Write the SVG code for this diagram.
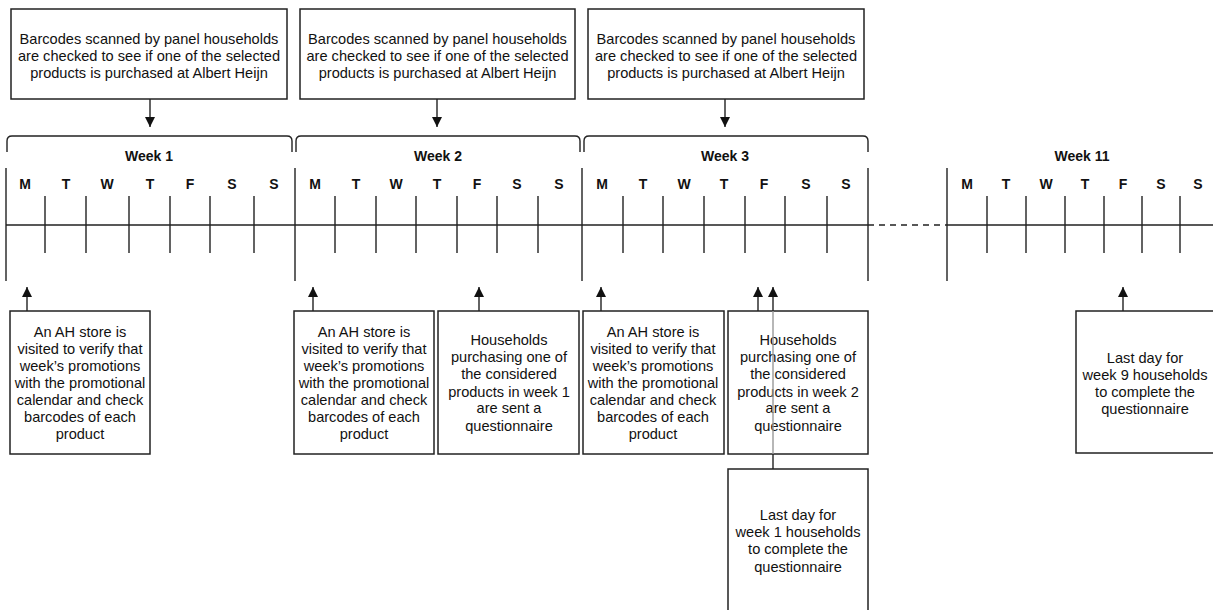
<svg xmlns="http://www.w3.org/2000/svg" width="1213" height="610" viewBox="0 0 1213 610">
<style>
.box{fill:#fff;stroke:#222;stroke-width:1.5}
.ln{stroke:#222;stroke-width:1.4;fill:none}
.t{font-family:"Liberation Sans",Arial,sans-serif;font-size:14.6px;fill:#111;text-anchor:middle}
.b{font-family:"Liberation Sans",Arial,sans-serif;font-size:14px;font-weight:bold;fill:#111;text-anchor:middle}
</style>
<defs>
<marker id="ah" markerUnits="userSpaceOnUse" markerWidth="12" markerHeight="12" refX="10" refY="5" orient="auto">
<path d="M0,0 L10,5 L0,10 Z" fill="#111"/>
</marker>
</defs>
<rect width="1213" height="610" fill="#fff"/>

<g id="timeline">
<path class="ln" d="M7,152 V141 Q7,136 12,136 H287 Q292,136 292,141 V152"/>
<path class="ln" d="M296,152 V141 Q296,136 301,136 H575 Q580,136 580,141 V152"/>
<path class="ln" d="M584,152 V141 Q584,136 589,136 H863 Q868,136 868,141 V152"/>
<text class="b" x="149" y="161">Week 1</text>
<text class="b" x="438" y="161">Week 2</text>
<text class="b" x="725" y="161">Week 3</text>
<text class="b" x="1082" y="161">Week 11</text>
<g class="b">
<text x="25" y="189">M</text><text x="66" y="189">T</text><text x="107" y="189">W</text><text x="150" y="189">T</text><text x="190" y="189">F</text><text x="232" y="189">S</text><text x="274" y="189">S</text>
<text x="315" y="189">M</text><text x="356" y="189">T</text><text x="396" y="189">W</text><text x="437" y="189">T</text><text x="477" y="189">F</text><text x="517" y="189">S</text><text x="559" y="189">S</text>
<text x="602" y="189">M</text><text x="643" y="189">T</text><text x="684" y="189">W</text><text x="724" y="189">T</text><text x="764" y="189">F</text><text x="806" y="189">S</text><text x="846" y="189">S</text>
<text x="967" y="189">M</text><text x="1006" y="189">T</text><text x="1046" y="189">W</text><text x="1085" y="189">T</text><text x="1123" y="189">F</text><text x="1161" y="189">S</text><text x="1198" y="189">S</text>
</g>
<path class="ln" d="M6,225 H868 M947,225 H1213"/>
<path class="ln" d="M868,225 H947" stroke-dasharray="6,5"/>
<path class="ln" d="M6,168 V281 M295,168 V281 M582,168 V281 M868,168 V281 M947,168 V281"/>
<path class="ln" d="M45,196 V253 M86,196 V253 M129,196 V253 M170,196 V253 M210,196 V253 M254,196 V253
M335,196 V253 M376,196 V253 M416,196 V253 M457,196 V253 M497,196 V253 M538,196 V253
M623,196 V253 M663,196 V253 M704,196 V253 M745,196 V253 M785,196 V253 M827,196 V253
M987,196 V253 M1026,196 V253 M1065,196 V253 M1104,196 V253 M1142,196 V253 M1180,196 V253"/>
</g>

<g id="top1">
<rect class="box" x="11" y="9" width="276" height="90"/>
<text class="t" x="149" y="44">Barcodes scanned by panel households</text>
<text class="t" x="149" y="61">are checked to see if one of the selected</text>
<text class="t" x="149" y="78">products is purchased at Albert Heijn</text>
</g>
<g id="top2">
<rect class="box" x="300" y="9" width="275" height="90"/>
<text class="t" x="437.5" y="44">Barcodes scanned by panel households</text>
<text class="t" x="437.5" y="61">are checked to see if one of the selected</text>
<text class="t" x="437.5" y="78">products is purchased at Albert Heijn</text>
</g>
<g id="top3">
<rect class="box" x="588" y="9" width="276" height="90"/>
<text class="t" x="726" y="44">Barcodes scanned by panel households</text>
<text class="t" x="726" y="61">are checked to see if one of the selected</text>
<text class="t" x="726" y="78">products is purchased at Albert Heijn</text>
</g>

<g id="store1">
<rect class="box" x="10" y="311" width="140" height="143"/>
<text class="t" x="80" y="337">An AH store is</text>
<text class="t" x="80" y="354">visited to verify that</text>
<text class="t" x="80" y="371">week’s promotions</text>
<text class="t" x="80" y="388">with the promotional</text>
<text class="t" x="80" y="405">calendar and check</text>
<text class="t" x="80" y="422">barcodes of each</text>
<text class="t" x="80" y="439">product</text>
</g>
<g id="store2">
<rect class="box" x="294" y="311" width="140" height="143"/>
<text class="t" x="364" y="337">An AH store is</text>
<text class="t" x="364" y="354">visited to verify that</text>
<text class="t" x="364" y="371">week’s promotions</text>
<text class="t" x="364" y="388">with the promotional</text>
<text class="t" x="364" y="405">calendar and check</text>
<text class="t" x="364" y="422">barcodes of each</text>
<text class="t" x="364" y="439">product</text>
</g>
<g id="send1">
<rect class="box" x="438" y="311" width="141" height="143"/>
<text class="t" x="509" y="345">Households</text>
<text class="t" x="509" y="362">purchasing one of</text>
<text class="t" x="509" y="379">the considered</text>
<text class="t" x="509" y="397">products in week 1</text>
<text class="t" x="509" y="413">are sent a</text>
<text class="t" x="509" y="431">questionnaire</text>
</g>
<g id="store3">
<rect class="box" x="583" y="311" width="141" height="143"/>
<text class="t" x="653" y="337">An AH store is</text>
<text class="t" x="653" y="354">visited to verify that</text>
<text class="t" x="653" y="371">week’s promotions</text>
<text class="t" x="653" y="388">with the promotional</text>
<text class="t" x="653" y="405">calendar and check</text>
<text class="t" x="653" y="422">barcodes of each</text>
<text class="t" x="653" y="439">product</text>
</g>
<g id="send2">
<rect class="box" x="728" y="311" width="140" height="143"/>
<text class="t" x="798" y="345">Households</text>
<text class="t" x="798" y="362">purchasing one of</text>
<text class="t" x="798" y="379">the considered</text>
<text class="t" x="798" y="397">products in week 2</text>
<text class="t" x="798" y="413">are sent a</text>
<text class="t" x="798" y="431">questionnaire</text>
</g>
<g id="last1">
<rect class="box" x="728" y="469" width="140" height="160"/>
<text class="t" x="798" y="520">Last day for</text>
<text class="t" x="798" y="537">week 1 households</text>
<text class="t" x="798" y="554">to complete the</text>
<text class="t" x="798" y="572">questionnaire</text>
</g>
<g id="last9">
<rect class="box" x="1076" y="311" width="150" height="142"/>
<text class="t" x="1145" y="363">Last day for</text>
<text class="t" x="1145" y="380">week 9 households</text>
<text class="t" x="1145" y="397">to complete the</text>
<text class="t" x="1145" y="414">questionnaire</text>
</g>

<g id="connectors">
<path class="ln" d="M150,99 V127" marker-end="url(#ah)"/>
<path class="ln" d="M437,99 V127" marker-end="url(#ah)"/>
<path class="ln" d="M725,99 V127" marker-end="url(#ah)"/>
<path class="ln" d="M27,311 V287" marker-end="url(#ah)"/>
<path class="ln" d="M313,311 V287" marker-end="url(#ah)"/>
<path class="ln" d="M479,311 V287" marker-end="url(#ah)"/>
<path class="ln" d="M601,311 V287" marker-end="url(#ah)"/>
<path class="ln" d="M758,311 V287" marker-end="url(#ah)"/>
<path class="ln" d="M773,311 V287" marker-end="url(#ah)"/>
<path d="M773,311 V454" stroke="#999" stroke-width="1.4"/>
<path class="ln" d="M773,454 V469"/>
<path class="ln" d="M1123,311 V287" marker-end="url(#ah)"/>
</g>
</svg>
